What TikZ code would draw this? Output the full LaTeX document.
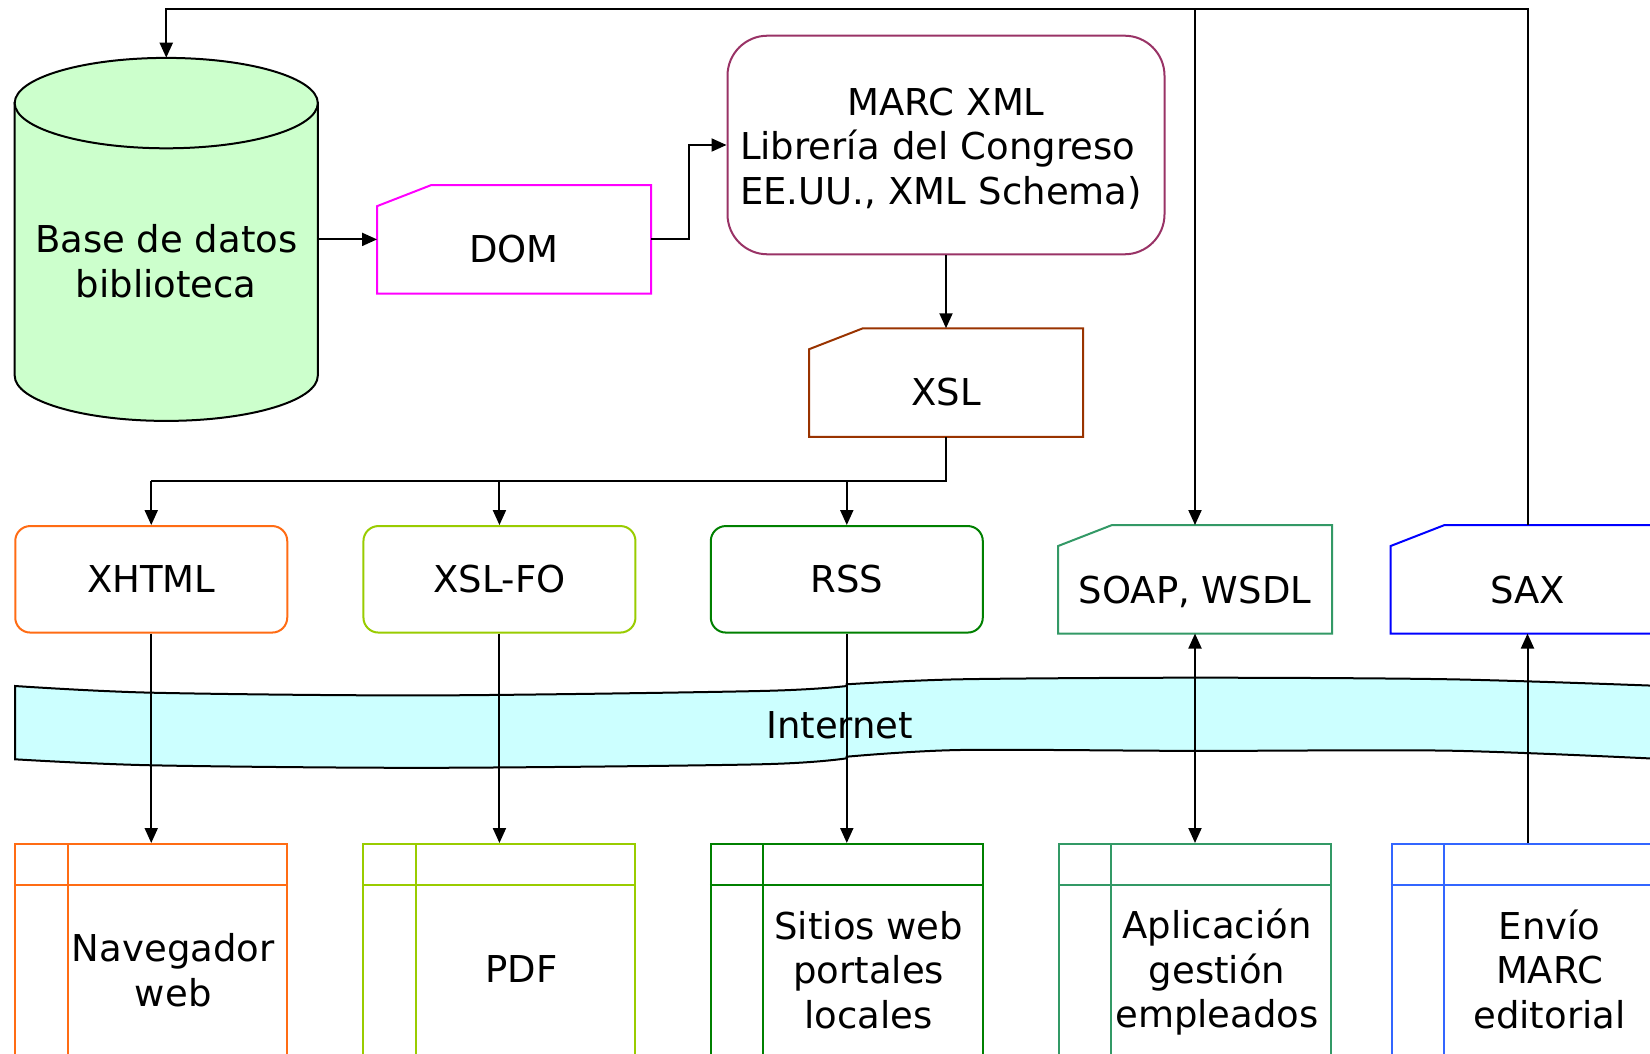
\documentclass[tikz,border=0pt]{standalone}
\usepackage{fontspec}
\setmainfont{DejaVu Sans}
\usetikzlibrary{arrows.meta}
\definecolor{cOrange}{RGB}{255,108,20}
\definecolor{cYG}{RGB}{153,204,0}
\definecolor{cGreen}{RGB}{0,128,0}
\definecolor{cSea}{RGB}{51,153,102}
\definecolor{cBlue}{RGB}{0,0,255}
\definecolor{cBlueL}{RGB}{51,102,255}
\definecolor{cMag}{RGB}{255,0,255}
\definecolor{cPlum}{RGB}{153,51,102}
\definecolor{cBrown}{RGB}{153,51,0}
\definecolor{dbfill}{RGB}{204,255,204}
\definecolor{netfill}{RGB}{204,255,255}
\newcommand\cardoutline[2]{\draw[line width=2pt,draw=#2] ([yshift=-21pt]#1.north west) -- ([xshift=54pt]#1.north west) -- (#1.north east) -- (#1.south east) -- (#1.south west) -- cycle;}
\newcommand\appbox[5]{%
  \node[draw=#2, line width=2pt, minimum width=272pt, minimum height=220pt, inner sep=0pt] (#1) at (#3,954) {};
  \draw[draw=#2, line width=2pt] ([xshift=53.4pt]#1.north west) -- ([xshift=53.4pt]#1.south west)
     ([yshift=-42pt]#1.north west) -- ([yshift=-42pt]#1.north east);
  \node[txt] (#1t) at (#3+22,#4) {#5};}
\newcommand\lowered[2][10pt]{\raisebox{-#1}[\height][\depth]{#2}}
\begin{document}
\begin{tikzpicture}[x=1pt,y=-1pt,
  txt/.style={font=\fontsize{37}{44.5}\selectfont, align=center, inner sep=0pt},
  box/.style={txt, minimum width=272pt, minimum height=106.5pt, line width=2pt},
  rbox/.style={box, draw, rounded corners=15pt},
  conn/.style={line width=2pt, draw=black},
  arr/.style={conn, -{Triangle[length=15pt,width=13pt]}},
  biarr/.style={conn, {Triangle[length=15pt,width=13pt]}-{Triangle[length=15pt,width=13pt]}}]
\clip (0,0) rectangle (1650,1054);
\fill[white] (0,0) rectangle (1650,1054);

% database cylinder
\node[minimum width=303pt, minimum height=363pt, inner sep=0pt] (db) at (166.25,239.4) {};
\filldraw[fill=dbfill, line width=2pt] (14.7,103.1) -- (14.7,375.7)
  .. controls (14.7,400.66) and (82.55,420.9) .. (166.25,420.9)
  .. controls (249.95,420.9) and (317.8,400.66) .. (317.8,375.7) -- (317.8,103.1) -- cycle;
\filldraw[fill=dbfill, line width=2pt] (166.25,103.1) ellipse [x radius=151.55, y radius=45.2];
\node[txt] (dbtext) at (166.25,261) {Base de datos\\biblioteca};

% DOM
\node[box] (dom) at (514.05,239.4) {\lowered{DOM}};
\cardoutline{dom}{cMag}

% MARC XML
\node[box, draw=cPlum, rounded corners=40pt, minimum width=437pt, minimum height=218.6pt] (marc) at (946,145) {};
\node[txt, align=left, text width=412pt] (marct) at (946,148.5)
  {\makebox[\linewidth][c]{MARC XML}\\Librería del Congreso\\EE.UU., XML Schema)};

% XSL
\node[box] (xsl) at (946,382.5) {\lowered{XSL}};
\cardoutline{xsl}{cBrown}

% row 2
\node[rbox, draw=cOrange] (xhtml) at (151.25,579.3) {XHTML};
\node[rbox, draw=cYG] (xslfo) at (499.45,579.3) {XSL-FO};
\node[rbox, draw=cGreen] (rss) at (846.8,579.3) {RSS};
\node[box] (soap) at (1195,579.3) {\lowered[13pt]{SOAP, WSDL}};
\cardoutline{soap}{cSea}
\node[box] (sax) at (1527.5,579.3) {\lowered[11pt]{SAX}};
\cardoutline{sax}{cBlue}

% Internet band
\filldraw[fill=netfill, line width=2pt]
  plot[smooth] coordinates {(15,686) (152,692.7) (430,695.4) (760,691) (846.7,686)}
  -- plot[smooth] coordinates {(846.7,684.3) (960,679.3) (1197,677.7) (1450,679.3) (1662,686)}
  -- plot[smooth] coordinates {(1662,759) (1450,750.7) (1197,750.9) (960,750) (846.7,756.7)}
  -- plot[smooth] coordinates {(846.7,758.3) (760,764.3) (430,767.8) (152,765.3) (15,759.3)}
  -- cycle;
\node[txt] (net) at (839.7,725) {Internet};

% row 3
\appbox{nav}{cOrange}{151.25}{970}{Navegador\\web}
\appbox{pdf}{cYG}{499.45}{969}{PDF}
\appbox{sitios}{cGreen}{846.8}{970}{Sitios web\\portales\\locales}
\appbox{aplic}{cSea}{1195}{972.5}{Aplicación\\gestión\\empleados}
\appbox{envio}{cBlueL}{1527.5}{969}{Envío\\MARC\\editorial}

% connectors
\coordinate (topy) at (0,9.5);
\coordinate (br) at (946,481);
\draw[arr] (db.east) -- (dom.west);
\draw[arr] (dom.east) -- ++(37.5,0) |- (marc.west);
\draw[arr] (marc.south) -- (xsl.north);
\draw[conn] (xsl.south) -- (br) -- (br -| xhtml.north);
\draw[arr] (br -| xhtml.north) -- (xhtml.north);
\draw[arr] (br -| xslfo.north) -- (xslfo.north);
\draw[arr] (br -| rss.north) -- (rss.north);
\draw[arr] (sax.north) -- (sax.north |- topy) -| (db.north);
\draw[arr] (soap.north |- topy) -- (soap.north);
\draw[arr] (xhtml.south) -- (nav.north);
\draw[arr] (xslfo.south) -- (pdf.north);
\draw[arr] (rss.south) -- (sitios.north);
\draw[biarr] (soap.south) -- (aplic.north);
\draw[arr] (envio.north) -- (sax.south);
\end{tikzpicture}
\end{document}
